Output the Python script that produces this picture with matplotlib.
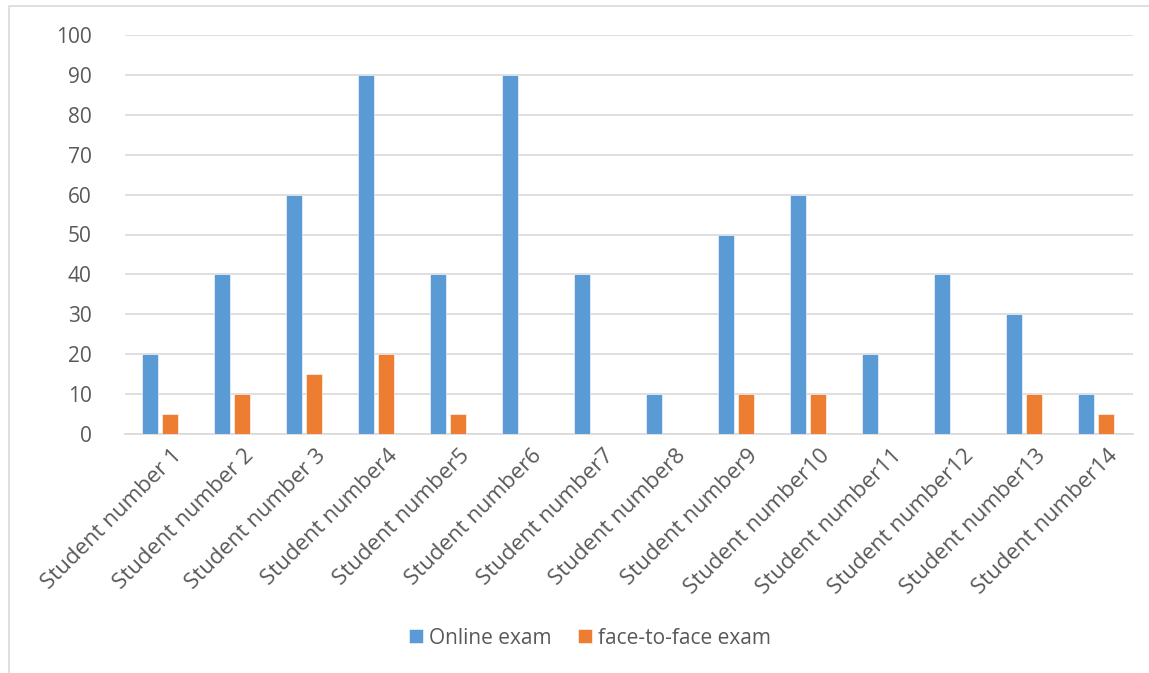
import numpy as np
import matplotlib.pyplot as plt
from matplotlib.patches import Rectangle

# chart data
students = ['Student number 1', 'Student number 2', 'Student number 3',
            'Student number4', 'Student number5', 'Student number6',
            'Student number7', 'Student number8', 'Student number9',
            'Student number10', 'Student number11', 'Student number12',
            'Student number13', 'Student number14']
online = [20, 40, 60, 90, 40, 90, 40, 10, 50, 60, 20, 40, 30, 10]
face_to_face = [5, 10, 15, 20, 5, 0, 0, 0, 10, 10, 0, 0, 10, 5]
yticks = list(range(0, 101, 10))

BLUE = '#5B9BD5'
ORANGE = '#ED7D31'
TEXT = '#595959'
GRID = '#D9D9D9'

plt.rcParams['font.family'] = ['Open Sans', 'DejaVu Sans']

fig = plt.figure(figsize=(11.49, 6.73), dpi=100)
# outer chart border, like the Excel chart frame
fig.patches.append(Rectangle((9 / 1149, -0.1), 1.2, 1.1 - 6 / 673,
                             transform=fig.transFigure, fill=False,
                             edgecolor=GRID, linewidth=1.2))

ax = fig.add_axes([125 / 1149, 1 - 434 / 673, 1008 / 1149, 399 / 673])
x = np.arange(len(students))
w = 0.225
ax.bar(x - 0.15, online, w, color=BLUE, label='Online exam', zorder=3,
       edgecolor='white', linewidth=0.4)
ax.bar(x + 0.13, face_to_face, w, color=ORANGE, label='face-to-face exam',
       zorder=3, edgecolor='white', linewidth=0.4)

ax.set_xlim(-0.5, len(students) - 0.5)
ax.set_ylim(0, 100)
ax.set_yticks(yticks)
ax.yaxis.grid(True, color=GRID, linewidth=1.2, zorder=0)
ax.set_axisbelow(True)
for s in ['top', 'right', 'left']:
    ax.spines[s].set_visible(False)
ax.spines['bottom'].set_color(GRID)
ax.spines['bottom'].set_linewidth(1.2)
ax.tick_params(axis='y', length=0, pad=24, labelsize=15, labelcolor=TEXT)
ax.tick_params(axis='x', length=0, pad=8, labelsize=16, labelcolor=TEXT)
ax.set_xticks(x + 0.14)
ax.set_xticklabels(students, rotation=45, ha='right', rotation_mode='anchor')

fig.legend(loc='center', bbox_to_anchor=(590 / 1149, 1 - 638 / 673), ncol=2,
           frameon=False, fontsize=15, labelcolor=TEXT, handlelength=0.65,
           handleheight=0.65, columnspacing=1.3, handletextpad=0.3)

fig.savefig('out.png', dpi=100)
